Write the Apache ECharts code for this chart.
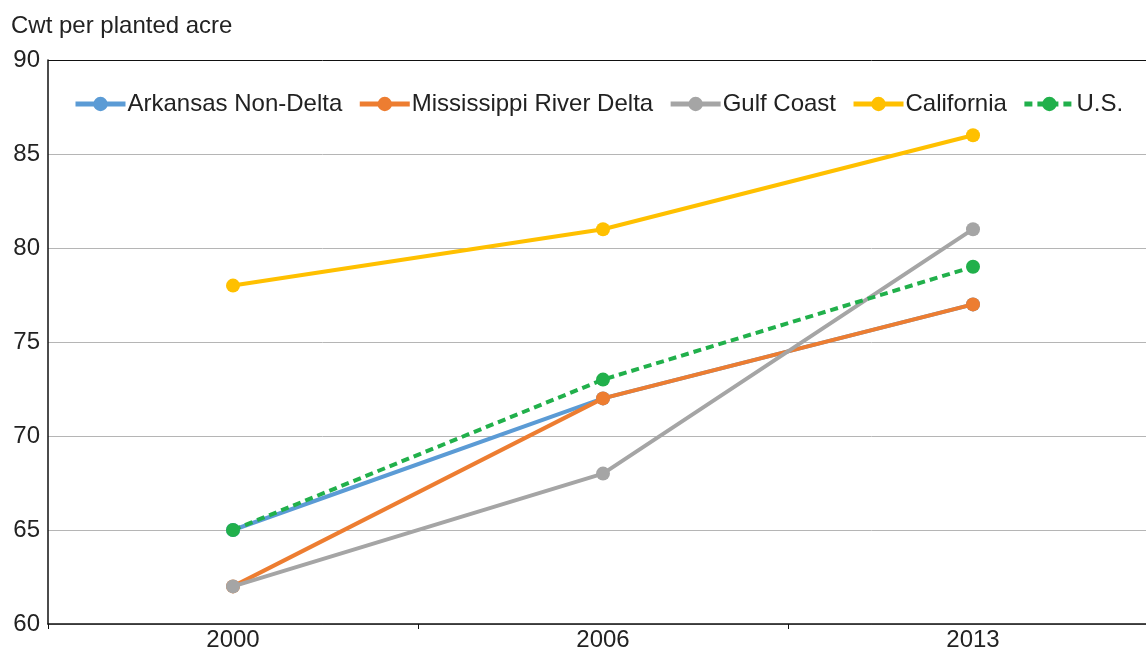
<!DOCTYPE html>
<html><head><meta charset="utf-8">
<script src="https://cdn.jsdelivr.net/npm/echarts@6/dist/echarts.min.js"></script>
<style>html,body{margin:0;padding:0;background:#fff}#c{width:1146px;height:652px}</style>
</head><body><div id="c"></div>
<script>
const categories = ['2000','2006','2013'];
const arkansasNonDelta = [65, 72, 77];
const mississippiRiverDelta = [62, 72, 77];
const gulfCoast = [62, 68, 81];
const california = [78, 81, 86];
const us = [65, 73, 79];
const seriesNames = ['Arkansas Non-Delta','Mississippi River Delta','Gulf Coast','California','U.S.'];
const colors = ['#5b9bd5','#ed7d31','#a5a5a5','#ffc000','#21b04b'];
const yTicks = [60,65,70,75,80,85,90];

const chart = echarts.init(document.getElementById('c'));
const font = 'Liberation Sans, Arial, sans-serif';
// category band: each category occupies one unit; the plot is cut at the right edge of the window
const xMin = -0.5, xMax = categories.length - 0.5 - 12 / 370;
function pairs(vals) { return vals.map((v, i) => [i, v]); }
function line(name, data, color, dashed, z) {
  return {
    name, type: 'line', data: pairs(data), z,
    symbol: 'circle', symbolSize: 14,
    lineStyle: { color, width: 4, type: dashed ? [8, 5] : 'solid' },
    itemStyle: { color },
    emphasis: { disabled: true }
  };
}
chart.setOption({
  animation: false,
  color: colors,
  textStyle: { fontFamily: font },
  title: {
    text: 'Cwt per planted acre', left: 6, top: 9,
    textStyle: { fontFamily: font, fontSize: 24, fontWeight: 'normal', color: '#222' }
  },
  legend: {
    top: 87, left: 68, itemWidth: 50, itemHeight: 18, itemGap: 15,
    lineStyle: { width: 5 },
    textStyle: { fontFamily: font, fontSize: 24, color: '#222', padding: [0,0,0,-3] },
    data: seriesNames
  },
  grid: { left: 48, right: 0, top: 60, bottom: 26, containLabel: false },
  xAxis: [{
    type: 'value', min: xMin, max: xMax, interval: 0.5,
    axisLine: { onZero: false, lineStyle: { color: '#111', width: 1.5 } },
    axisTick: { show: false },
    splitLine: { show: false },
    axisLabel: {
      fontFamily: font, fontSize: 24, color: '#222', margin: 4,
      showMinLabel: true, showMaxLabel: false,
      formatter: v => (Number.isInteger(v) && categories[v] !== undefined) ? categories[v] : ''
    }
  }, {
    type: 'value', min: xMin, max: xMax, interval: 1, position: 'bottom',
    axisLine: { show: false, onZero: false },
    axisTick: { show: true, length: 5, lineStyle: { color: '#111' } },
    axisLabel: { show: false },
    splitLine: { show: false }
  }],
  yAxis: {
    type: 'value', min: yTicks[0], max: yTicks[yTicks.length-1], interval: 5,
    axisLine: { show: true, onZero: false, lineStyle: { color: '#111', width: 1.5 } },
    axisTick: { show: false },
    axisLabel: { fontFamily: font, fontSize: 24, color: '#222', margin: 8, padding: [0,0,5,0] },
    splitLine: { show: true, lineStyle: { color: ['#b5b5b5','#b5b5b5','#b5b5b5','#b5b5b5','#b5b5b5','#b5b5b5','#111'], width: 1 } }
  },
  series: [
    line(seriesNames[0], arkansasNonDelta, colors[0], false, 2),
    line(seriesNames[1], mississippiRiverDelta, colors[1], false, 3),
    line(seriesNames[2], gulfCoast, colors[2], false, 4),
    line(seriesNames[3], california, colors[3], false, 2),
    line(seriesNames[4], us, colors[4], true, 5)
  ]
});
</script></body></html>
